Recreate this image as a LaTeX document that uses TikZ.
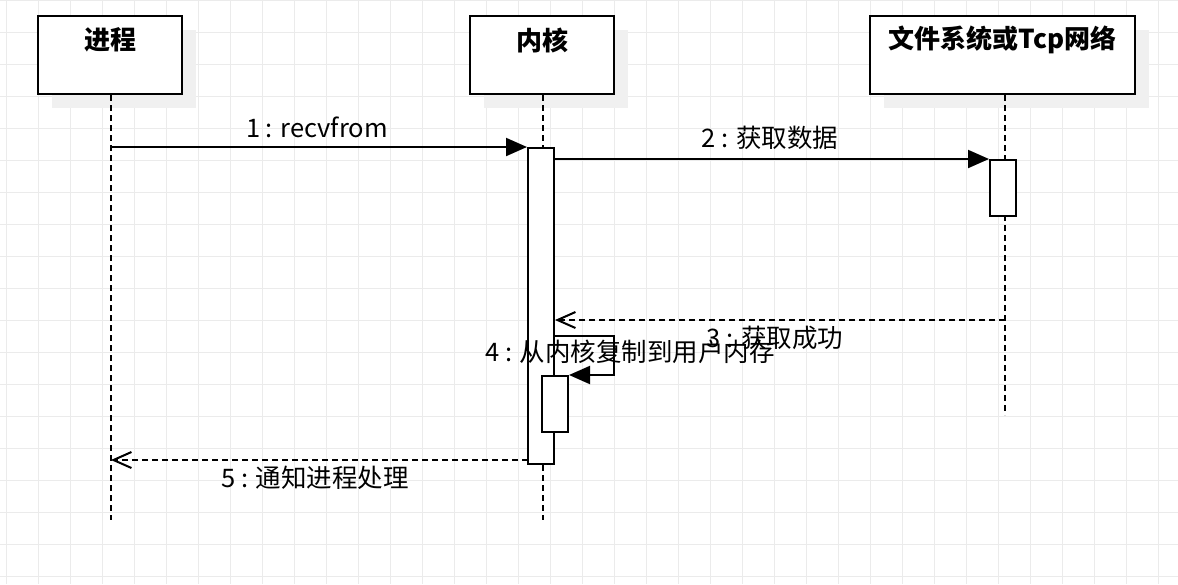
\documentclass[tikz,border=0pt]{standalone}
\usepackage{fontspec}
\setmainfont{Noto Sans CJK SC}
\usetikzlibrary{positioning}
\usetikzlibrary{calc}
\usetikzlibrary{arrows.meta}
\usetikzlibrary{shadows}

\begin{document}
\begin{tikzpicture}[
    x=1pt, y=-1pt,             % one unit is one pixel, y runs downwards
    font=\fontsize{25.5}{30}\selectfont,
    ]
% -------------------------------------------------
\tikzset{
  gridline/.style={draw=black!8, line width=1pt},
  head/.style={draw, line width=2pt, fill=white, rectangle, minimum width=144pt, minimum height=78pt,
    general shadow={shadow xshift=14pt, shadow yshift=-14pt, fill=black!6}},
  title/.style={font=\fontsize{26}{30}\selectfont\bfseries},
  life/.style={draw, line width=2pt, dash pattern=on 6pt off 4pt},
  act/.style={draw, line width=2pt, fill=white, rectangle, minimum width=26pt},
  sync/.style={draw, line width=2pt, -{Triangle[length=21pt,width=18pt]}},
  reply/.style={draw, line width=2pt, dash pattern=on 6pt off 4pt, -{Straight Barb[length=18pt,width=16pt]}},
  msg/.style={inner sep=0pt}
}
% -------------------------------------------------
% Background grid
\useasboundingbox (0,0) rectangle (1178,584);
\fill[white] (0,0) rectangle (1178,584);
\foreach \gx in {6.5,38.5,...,1178} \draw[gridline] (\gx,0) -- (\gx,584);
\foreach \gy in {0,32,...,584} \draw[gridline] (0,\gy) -- (1178,\gy);

% Placing the heads
\node[head] (proc) at (110,55) {};
\node[head] (kern) at (542,55) {};
\node[head, minimum width=265pt] (fs) at (1002.5,55) {};

\node[title] (t0) at (110,40) {进程};
\node[title] (t1) at (542,40) {内核};
\node[title] (t2) at (1002.5,40) {文件系统或Tcp网络};

% Lifelines
\coordinate (e0) at (111,520);
\coordinate (e1) at (543,520);
\coordinate (e2) at (1005,415);
\path[life] (proc.south -| e0) -- (e0);
\path[life] (kern.south -| e1) -- (e1);
\path[life] (fs.south -| e2) -- (e2);

% Activations
\node[act, minimum height=316pt] (kact) at (541,306) {};
\node[act, minimum height=56pt] (fact) at (1003,188) {};
\node[act, minimum height=56pt] (sact) at (555,404) {};

% Messages
\path[sync] (e0 |- kact.north west) -- (kact.north west);
\node[msg] (m1) at (317,127) {1 : recvfrom};

\path[sync] (kact.east |- fact.north west) -- (fact.north west);
\node[msg] (m2) at (770,138) {2 : 获取数据};

\coordinate (r3) at (1005,320);
\path[reply] (r3) -- (kact.east |- r3);
\node[msg] (m3) at (775,338) {3 : 获取成功};

\coordinate (s4) at (554,336);
\path[sync] (s4) -- ++(60,0) |- (sact.north east);
\node[msg] (m4) at (630,352) {4 : 从内核复制到用户内存};

\coordinate (r5) at (528,460);
\path[reply] (r5) -- (e0 |- r5);
\node[msg] (m5) at (315,478) {5 : 通知进程处理};

\end{tikzpicture}
\end{document}
